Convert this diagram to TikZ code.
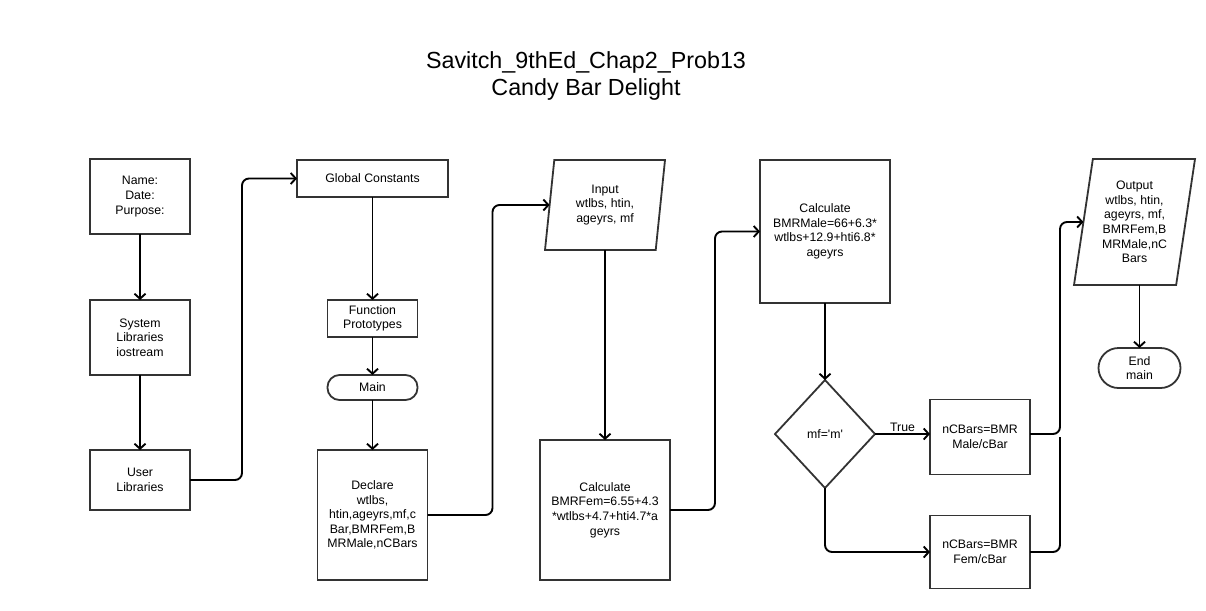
\documentclass[tikz,border=0pt]{standalone}
\usepackage{fontspec}
\setmainfont{Liberation Sans}
\usetikzlibrary{arrows.meta, positioning, calc, shapes.geometric}

\begin{document}
\begin{tikzpicture}[x=1pt, y=-1pt,
    box/.style={rectangle, draw=black!80, line width=1.8pt, fill=white, text=black,
        font=\fontsize{12.3}{14.6}\selectfont, align=center, inner sep=2pt, outer sep=0pt},
    term/.style={box, rounded corners=12pt},
    io/.style={box, trapezium, trapezium left angle=77, trapezium right angle=103,
        trapezium stretches body, inner sep=0pt},
    decide/.style={box, diamond, inner sep=0pt},
    arr/.style={-{Straight Barb[length=5pt, width=11pt]}, line width=1.9pt, black, rounded corners=7pt},
    line/.style={line width=1.9pt, black, rounded corners=7pt},
    ttl/.style={font=\fontsize{23.3}{26.5}\selectfont, align=center}
]
    \useasboundingbox (0,0) rectangle (1206,610);
    \node[ttl] (title) at (586,76) {Savitch\_9thEd\_Chap2\_Prob13\\Candy Bar Delight};

    % left column
    \node[box, minimum width=100pt, minimum height=75pt] (name) at (140,196.5) {Name:\\Date:\\Purpose:};
    \node[box, minimum width=100pt, minimum height=75pt, below=66pt of name] (syslib) {System\\Libraries\\iostream};
    \node[box, minimum width=100pt, minimum height=60pt, below=75pt of syslib] (userlib) {User\\Libraries};

    % second column
    \node[box, minimum width=151pt, minimum height=37pt] (global) at (372.5,178.5) {Global Constants};
    \node[box, minimum width=90pt, minimum height=37pt, below=103pt of global] (proto) {Function\\Prototypes};
    \node[term, minimum width=90pt, minimum height=25pt, below=38pt of proto] (main) {Main};
    \node[box, minimum width=110pt, minimum height=130pt, below=50pt of main] (declare)
        {Declare\\wtlbs,\\htin,ageyrs,mf,c\\Bar,BMRFem,B\\MRMale,nCBars};

    % third column
    \node[io, minimum width=120pt, minimum height=90pt] (input) at (605,205) {Input\\wtlbs, htin,\\ageyrs, mf};
    \node[box, minimum width=130pt, minimum height=140pt] (calcfem) at (605,510)
        {Calculate\\BMRFem=6.55+4.3\\*wtlbs+4.7+hti4.7*a\\geyrs};

    % fourth column
    \node[box, minimum width=130pt, minimum height=143pt] (calcmale) at (825,231.5)
        {Calculate\\BMRMale=66+6.3*\\wtlbs+12.9+hti6.8*\\ageyrs};
    \node[decide, minimum width=100pt, minimum height=108pt] (mf) at (825,434)
        {mf=\textquotesingle m\textquotesingle};
    \node[box, minimum width=100pt, minimum height=75pt] (ncbm) at (980,437) {nCBars=BMR\\Male/cBar};
    \node[box, minimum width=100pt, minimum height=73pt] (ncbf) at (980,552) {nCBars=BMR\\Fem/cBar};

    % last column
    \node[io, minimum width=121pt, minimum height=126pt] (output) at (1134.5,222)
        {Output\\wtlbs, htin,\\ageyrs, mf,\\BMRFem,B\\MRMale,nC\\Bars};
    \node[term, rounded corners=20pt, minimum width=82pt, minimum height=40pt, below=63pt of output.south, anchor=north, xshift=5pt] (endmain) {End\\main};

    \coordinate (joint) at ($(ncbm.east)+(30,0)$);

    \draw[arr] (name) -- (syslib);
    \draw[arr] (syslib) -- (userlib);
    \draw[arr] (userlib.east) -- ++(52,0) |- (global.west);
    \draw[arr] (global) -- (proto);
    \draw[arr] (proto) -- (main);
    \draw[arr] (main) -- (declare);
    \draw[arr] (declare.east) -- ++(65,0) |- (input.west);
    \draw[arr] (input.south) -- (calcfem.north);
    \draw[arr] (calcfem.east) -- ++(45,0) |- (calcmale.west);
    \draw[arr] (calcmale) -- (mf);
    \draw[arr] (mf.east) -- node[above, inner sep=1.5pt, font=\fontsize{12.3}{14}\selectfont] {True} (mf.east -| ncbm.west);
    \draw[arr] (mf.south) |- (ncbf.west);
    \draw[arr] (ncbm.east |- mf.east) -- (joint |- mf.east) |- (output.west);
    \draw[line] (ncbf.east) -| (joint);
    \draw[arr] (output.south -| endmain.north) -- (endmain.north);
\end{tikzpicture}
\end{document}
